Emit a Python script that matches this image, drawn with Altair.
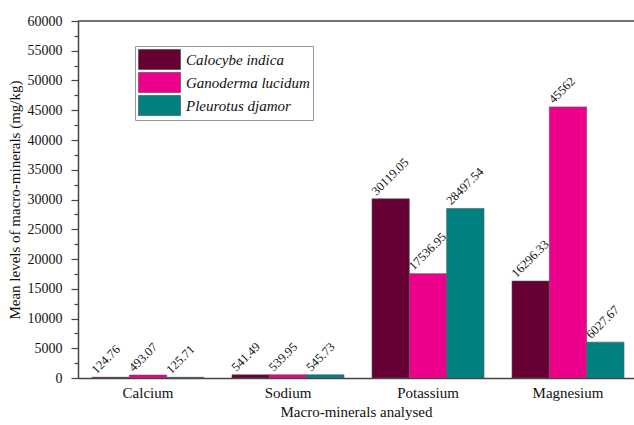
import altair as alt
import pandas as pd

# Macro-mineral content (mg/kg) of three mushroom species
minerals = ["Calcium", "Sodium", "Potassium", "Magnesium"]
species = ["Calocybe indica", "Ganoderma lucidum", "Pleurotus djamor"]
calocybe = [124.76, 541.49, 30119.05, 16296.33]
ganoderma = [493.07, 539.95, 17536.95, 45562]
pleurotus = [125.71, 545.73, 28497.54, 6027.67]
colors = ["#660033", "#EC008C", "#008080"]
y_ticks = list(range(0, 60001, 2500))

rows = []
for name, vals in zip(species, [calocybe, ganoderma, pleurotus]):
    for m, v in zip(minerals, vals):
        rows.append({"mineral": m, "species": name, "value": v})
df = pd.DataFrame(rows)

SERIF = "Liberation Serif"
W, H = 556, 357

x_scale = alt.Scale(paddingInner=0.2, paddingOuter=0.0857, align=0.583)
xo_scale = alt.Scale(paddingInner=0, paddingOuter=0)
y_scale = alt.Scale(domain=[0, 60000], nice=False)

x_axis = alt.Axis(
    ticks=False,
    labelAngle=0,
    labelPadding=7,
    labelFont=SERIF,
    labelFontSize=15,
    labelColor="#111",
    titleFont=SERIF,
    titleFontSize=15,
    titleFontWeight="normal",
    titleColor="#111",
    titlePadding=4,
    domainColor="#444",
    domainWidth=1.5,
)
y_axis = alt.Axis(
    values=y_ticks,
    labelExpr="datum.value % 5000 === 0 ? datum.label : ''",
    format="d",
    labelOverlap=False,
    labelFont=SERIF,
    labelFontSize=14,
    labelColor="#111",
    labelPadding=9,
    tickSize={"condition": {"test": "datum.value % 5000 === 0", "value": 7}, "value": 4},
    tickColor="#444",
    tickWidth=1.2,
    grid=False,
    domainColor="#444",
    domainWidth=1.5,
    titleFont=SERIF,
    titleFontSize=15,
    titleFontWeight="normal",
    titleColor="#111",
    titlePadding=5,
)

X_TITLE = "Macro-minerals analysed"
Y_TITLE = "Mean levels of macro-minerals (mg/kg)"


def x_enc():
    return alt.X("mineral:N", sort=minerals, title=X_TITLE, scale=x_scale, axis=x_axis)


def y_enc():
    return alt.Y("value:Q", title=Y_TITLE, scale=y_scale, axis=y_axis)


def xo_enc():
    return alt.XOffset("species:N", sort=species, scale=xo_scale)


color_enc = alt.Color(
    "species:N",
    sort=species,
    scale=alt.Scale(domain=species, range=colors),
    legend=alt.Legend(
        title=None,
        orient="none",
        legendX=57,
        legendY=25,
        padding=3,
        strokeColor="#999",
        fillColor="white",
        symbolType="M-1,-1H3.2V1H-1Z",
        symbolSize=400,
        symbolStrokeColor="#444",
        symbolStrokeWidth=0.6,
        symbolOpacity=1,
        rowPadding=0,
        labelOffset=27,
        labelFont=SERIF,
        labelFontSize=15,
        labelFontStyle="italic",
        labelColor="#111",
    ),
)

base = alt.Chart(df)

bars = base.mark_bar(stroke="#555", strokeWidth=0.6).encode(
    x=x_enc(), xOffset=xo_enc(), y=y_enc(), color=color_enc
)

labels = base.mark_text(
    angle=315,
    align="left",
    baseline="alphabetic",
    dx=-8,
    dy=-12,
    font=SERIF,
    fontSize=12.5,
    color="#111",
).encode(
    x=x_enc(),
    xOffset=xo_enc(),
    y=y_enc(),
    text=alt.Text("value:Q", format="~f"),
)

# upper frame line at the top of the value range
top_line = alt.Chart(pd.DataFrame({"value": [60000]})).mark_rule(
    color="#444", strokeWidth=1.5
).encode(y=y_enc(), x=alt.value(0), x2=alt.value(W))

chart = (
    alt.layer(bars, labels, top_line)
    .properties(
        width=W,
        height=H,
        autosize=alt.AutoSizeParams(type="none"),
        padding={"left": 78, "top": 21, "right": 0, "bottom": 47},
        background="white",
    )
    .configure(font=SERIF)
    .configure_view(stroke=None)
)

chart.save("out.html", embed_options={"renderer": "svg", "actions": False})
